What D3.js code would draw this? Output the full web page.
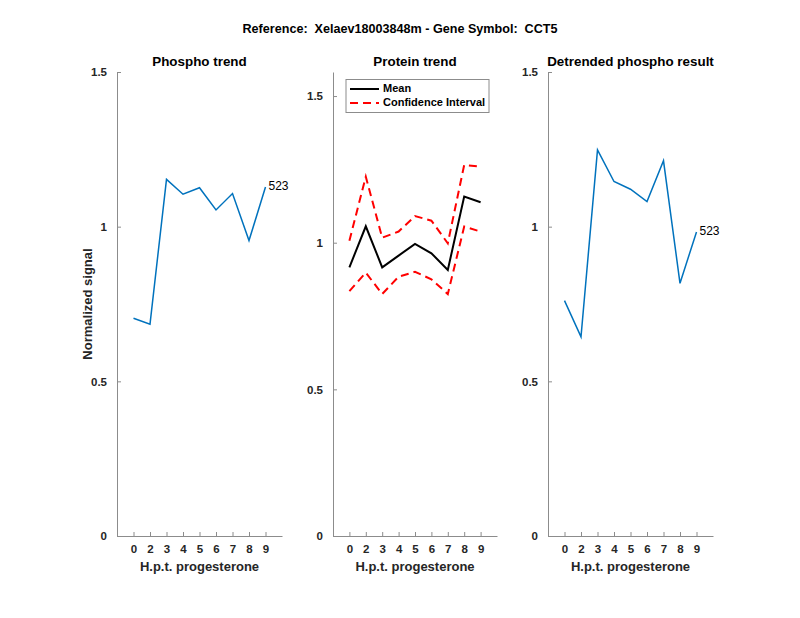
<!DOCTYPE html>
<html>
<head>
<meta charset="utf-8">
<script src="https://cdn.jsdelivr.net/npm/d3@7"></script>
<style>
  body { margin: 0; background: #fff; }
  svg { font-family: "Liberation Sans", Arial, Helvetica, sans-serif; }
</style>
</head>
<body>
<svg id="chart" width="800" height="618"></svg>
<script>
// ---- data ----
const hours = ["0", "2", "3", "4", "5", "6", "7", "8", "9"];
const phospho = [0.704, 0.685, 1.153, 1.105, 1.126, 1.054, 1.107, 0.955, 1.128];
const proteinMean = [0.916, 1.056, 0.916, 0.956, 0.996, 0.964, 0.907, 1.157, 1.138];
const proteinUpper = [1.007, 1.225, 1.017, 1.038, 1.091, 1.075, 0.998, 1.265, 1.259];
const proteinLower = [0.835, 0.898, 0.825, 0.884, 0.901, 0.875, 0.825, 1.055, 1.038];
const detrended = [0.761, 0.644, 1.248, 1.146, 1.121, 1.081, 1.213, 0.817, 0.983];
const yTicks = [0, 0.5, 1, 1.5];
const siteLabel = "523";
const mainTitle = "Reference:  Xelaev18003848m - Gene Symbol:  CCT5";
const panelTitles = ["Phospho trend", "Protein trend", "Detrended phospho result"];
const xLabel = "H.p.t. progesterone";
const yLabel = "Normalized signal";
const legendLabels = ["Mean", "Confidence Interval"];

(function () {
// ---- layout ----
const svg = d3.select("#chart");
const yTop = 72, yBottom = 536;
const panels = [
  { x0: 117, x1: 282, ymax: 1.5 },
  { x0: 333, x1: 497, ymax: 1.582 },
  { x0: 548, x1: 713, ymax: 1.5 }
];
const axisColor = "#8c8c8c";
const textColor = "#262626";
const blue = "#0072BD";

svg.append("text")
  .attr("x", 400).attr("y", 33)
  .attr("text-anchor", "middle")
  .attr("font-size", 12.6).attr("font-weight", "bold")
  .attr("fill", "#000")
  .style("white-space", "pre")
  .text(mainTitle);

function makePanel(i) {
  const p = panels[i];
  const g = svg.append("g");
  const x = d3.scaleLinear().domain([0, 10]).range([p.x0, p.x1]);
  const y = d3.scaleLinear().domain([0, p.ymax]).range([yBottom, yTop]);

  const xAxis = d3.axisBottom(x)
    .tickValues(d3.range(1, 10))
    .tickFormat((d) => hours[d - 1])
    .tickSizeInner(-4).tickSizeOuter(0).tickPadding(9);
  const gx = g.append("g").attr("transform", `translate(0,${yBottom})`).call(xAxis);
  gx.select(".domain").attr("stroke", axisColor);
  gx.selectAll(".tick line").attr("stroke", axisColor);
  gx.selectAll(".tick text").attr("font-size", 11.5).attr("font-weight", "bold")
    .attr("fill", textColor).attr("font-family", "Liberation Sans, Arial, sans-serif");

  const yAxis = d3.axisLeft(y)
    .tickValues(yTicks)
    .tickFormat(d3.format("~g"))
    .tickSizeInner(-4).tickSizeOuter(0).tickPadding(10);
  const gy = g.append("g").attr("transform", `translate(${p.x0},0)`).call(yAxis);
  gy.select(".domain").attr("stroke", axisColor);
  gy.selectAll(".tick line").attr("stroke", axisColor);
  gy.selectAll(".tick text").attr("font-size", 11.5).attr("font-weight", "bold")
    .attr("fill", textColor).attr("font-family", "Liberation Sans, Arial, sans-serif");

  g.append("text")
    .attr("x", (p.x0 + p.x1) / 2).attr("y", 66)
    .attr("text-anchor", "middle")
    .attr("font-size", 13.4).attr("font-weight", "bold").attr("fill", "#000")
    .text(panelTitles[i]);
  g.append("text")
    .attr("x", (p.x0 + p.x1) / 2).attr("y", 571)
    .attr("text-anchor", "middle")
    .attr("font-size", 13).attr("font-weight", "bold").attr("fill", textColor)
    .text(xLabel);
  return { g, x, y };
}

const line = (x, y) => d3.line().x((d, i) => x(i + 1)).y((d) => y(d));

// Panel 1
{
  const { g, x, y } = makePanel(0);
  g.append("path").datum(phospho)
    .attr("d", line(x, y)).attr("fill", "none")
    .attr("stroke", blue).attr("stroke-width", 1.5);
  g.append("text")
    .attr("x", x(9) + 3).attr("y", y(phospho[8]))
    .attr("dominant-baseline", "middle")
    .attr("font-size", 12).attr("fill", "#000")
    .text(siteLabel);
  g.append("text")
    .attr("transform", `translate(92,${(yTop + yBottom) / 2}) rotate(-90)`)
    .attr("text-anchor", "middle")
    .attr("font-size", 13).attr("font-weight", "bold").attr("fill", textColor)
    .text(yLabel);
}

// Panel 2
{
  const { g, x, y } = makePanel(1);
  const dash = "8,5";
  g.append("path").datum(proteinUpper)
    .attr("d", line(x, y)).attr("fill", "none")
    .attr("stroke", "#ff0000").attr("stroke-width", 2).attr("stroke-dasharray", dash);
  g.append("path").datum(proteinLower)
    .attr("d", line(x, y)).attr("fill", "none")
    .attr("stroke", "#ff0000").attr("stroke-width", 2).attr("stroke-dasharray", dash);
  g.append("path").datum(proteinMean)
    .attr("d", line(x, y)).attr("fill", "none")
    .attr("stroke", "#000").attr("stroke-width", 2);

  const lg = g.append("g");
  lg.append("rect").attr("x", 346).attr("y", 79.5).attr("width", 143).attr("height", 33)
    .attr("fill", "#fff").attr("stroke", "#8c8c8c").attr("stroke-width", 1);
  lg.append("line").attr("x1", 350).attr("x2", 379).attr("y1", 89).attr("y2", 89)
    .attr("stroke", "#000").attr("stroke-width", 2);
  lg.append("line").attr("x1", 350).attr("x2", 379).attr("y1", 103).attr("y2", 103)
    .attr("stroke", "#ff0000").attr("stroke-width", 2).attr("stroke-dasharray", dash);
  lg.append("text").attr("x", 383).attr("y", 89).attr("dominant-baseline", "middle")
    .attr("font-size", 11).attr("font-weight", "bold").attr("fill", "#000").text(legendLabels[0]);
  lg.append("text").attr("x", 383).attr("y", 103).attr("dominant-baseline", "middle")
    .attr("font-size", 11).attr("font-weight", "bold").attr("fill", "#000").text(legendLabels[1]);
}

// Panel 3
{
  const { g, x, y } = makePanel(2);
  g.append("path").datum(detrended)
    .attr("d", line(x, y)).attr("fill", "none")
    .attr("stroke", blue).attr("stroke-width", 1.5);
  g.append("text")
    .attr("x", x(9) + 3).attr("y", y(detrended[8]))
    .attr("dominant-baseline", "middle")
    .attr("font-size", 12).attr("fill", "#000")
    .text(siteLabel);
}
})();
</script>
</body>
</html>
